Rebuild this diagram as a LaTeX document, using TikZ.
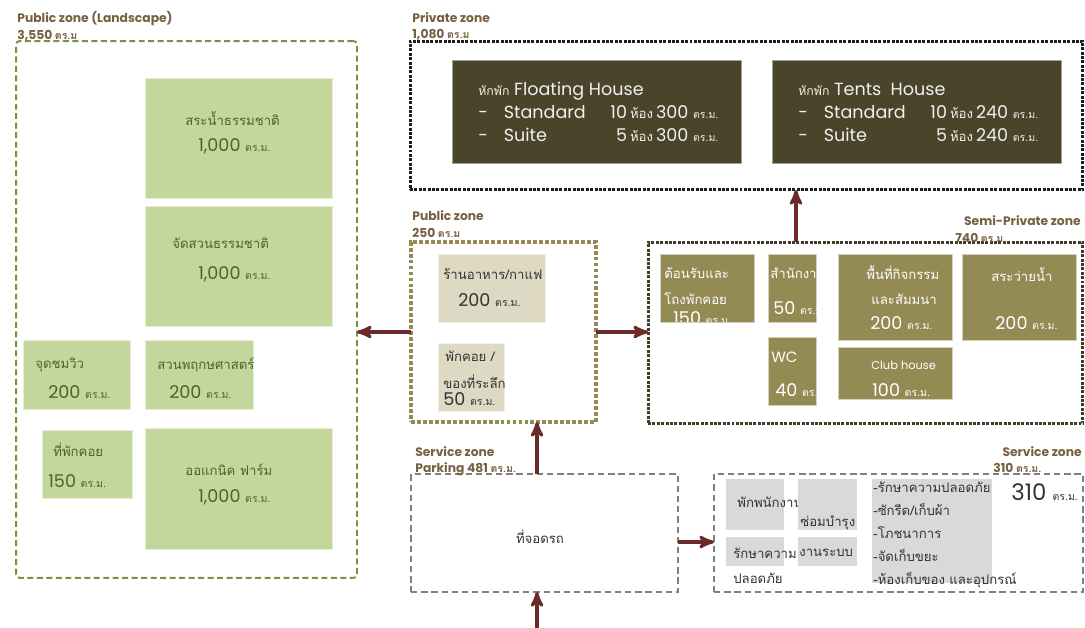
\documentclass[tikz,border=0pt]{standalone}
\usepackage{fontspec}
\setmainfont{Poppins}
\newfontfamily\thai[Script=Thai]{Loma}
\usepackage{tikz}
\usetikzlibrary{calc, shapes, arrows}
\usetikzlibrary{positioning}

\definecolor{zonebrown}{HTML}{76603F}
\definecolor{arrowred}{HTML}{6B2B2B}
\definecolor{landline}{HTML}{77933C}
\definecolor{landfill}{HTML}{C3D69B}
\definecolor{landtext}{HTML}{4F6228}
\definecolor{publine}{HTML}{948A54}
\definecolor{pubfill}{HTML}{DDD9C3}
\definecolor{semiline}{HTML}{403A26}
\definecolor{semifill}{HTML}{948A54}
\definecolor{privline}{HTML}{1E1E1E}
\definecolor{privfill}{HTML}{4A452A}
\definecolor{servline}{HTML}{7F7F7F}
\definecolor{servfill}{HTML}{D9D9D9}

\newcommand{\sqm}[1][6]{{\thai\fontsize{#1}{#1}\selectfont ตร.ม.}}
\newcommand{\sqmm}[1][6]{{\thai\fontsize{#1}{#1}\selectfont ตร.ม}}
\newcommand{\rooms}{{\thai\fontsize{7.5}{8}\selectfont ห้อง}}

\tikzstyle{area} = [rectangle, inner sep=0pt, outer sep=0pt]
\tikzstyle{zonetitle} = [anchor=west, inner sep=0pt, text=zonebrown, font=\bfseries\fontsize{7}{8}\selectfont]
\tikzstyle{landbox} = [area, fill=landfill, draw=landfill!40!white, line width=0.5pt]
\tikzstyle{pubbox} = [area, fill=pubfill, draw=pubfill!40!white, line width=0.5pt]
\tikzstyle{semibox} = [area, fill=semifill, draw=semifill!40!white, line width=0.5pt]
\tikzstyle{privbox} = [area, fill=privfill, draw=privfill!50!white, line width=0.5pt]
\tikzstyle{servbox} = [area, fill=servfill]
\tikzstyle{lbl} = [anchor=west, inner sep=0pt, font=\thai\fontsize{7.5}{9}\selectfont]
\tikzstyle{num} = [anchor=west, inner sep=0pt, font=\fontsize{10}{12}\selectfont]
\tikzstyle{link} = [->, >=stealth', line width=1.8pt, draw=arrowred]

\begin{document}
\begin{tikzpicture}[x=0.02cm, y=-0.02cm]
    \useasboundingbox (0,0) rectangle (1085,628);

    % public zone (landscape)
    \node[area, draw=landline, line width=1.1pt, dash pattern=on 3.4pt off 2pt, rounded corners=2pt, minimum width=6.82cm, minimum height=10.74cm] at (186.5,309.5) (landzone) {};
    \node[zonetitle] at (17,19) (landtitle) {Public zone (Landscape)};
    \node[zonetitle] at (17,36) (landsize) {3,550 \sqmm};

    \node[landbox, minimum width=3.74cm, minimum height=2.4cm] at (238.5,138) (pond) {};
    \node[lbl, text=landtext] at (185,119) (pondname) {สระน้ำธรรมชาติ};
    \node[num, text=landtext] at (198,146) (pondsize) {1,000 \sqm};
    \node[landbox, minimum width=3.74cm, minimum height=2.4cm] at (238.5,266) (garden) {};
    \node[lbl, text=landtext] at (172,243) (gardenname) {จัดสวนธรรมชาติ};
    \node[num, text=landtext] at (198,274) (gardensize) {1,000 \sqm};
    \node[landbox, minimum width=2.14cm, minimum height=1.38cm] at (76.5,374.5) (view) {};
    \node[lbl, text=landtext] at (35,365) (viewname) {จุดชมวิว};
    \node[num, text=landtext] at (48,392) (viewsize) {200 \sqm};
    \node[landbox, minimum width=2.16cm, minimum height=1.38cm] at (199,374.5) (botanic) {};
    \node[lbl, text=landtext] at (157,365) (botanicname) {สวนพฤกษศาสตร์};
    \node[num, text=landtext] at (169,392) (botanicsize) {200 \sqm};
    \node[landbox, minimum width=1.8cm, minimum height=1.36cm] at (87,464) (rest) {};
    \node[lbl, text=landtext] at (53,450) (restname) {ที่พักคอย};
    \node[num, text=landtext] at (48,481) (restsize) {150 \sqm};
    \node[landbox, minimum width=3.74cm, minimum height=2.42cm] at (238.5,488.5) (farm) {};
    \node[lbl, text=landtext] at (185,470) (farmname) {ออแกนิค ฟาร์ม};
    \node[num, text=landtext] at (198,497) (farmsize) {1,000 \sqm};

    % private zone
    \node[area, draw=privline, line width=1.7pt, dash pattern=on 1.7pt off 0.8pt, minimum width=13.46cm, minimum height=2.98cm] at (746.5,115.5) (privzone) {};
    \node[zonetitle] at (412,18) (privtitle) {Private zone};
    \node[zonetitle] at (412,35) (privsize) {1,080 \sqmm};

    \node[privbox, minimum width=5.78cm, minimum height=2.06cm] at (596.5,111.5) (floating) {};
    \node[anchor=north west, inner sep=0pt, text=white!92!privfill, font=\fontsize{10}{13}\selectfont] at (478,79) (floatingtext) {%
        \begin{tabular}{@{}l@{\hspace{9pt}}l@{\hspace{14pt}}r@{\,}l@{}}
            \multicolumn{4}{@{}l}{{\thai\fontsize{7}{8}\selectfont หักพัก} Floating House}\\
            - & Standard & 10 & \rooms\,300 \sqm\\
            - & Suite & 5 & \rooms\,300 \sqm
        \end{tabular}};
    \node[privbox, minimum width=5.78cm, minimum height=2.06cm] at (916.5,111.5) (tents) {};
    \node[anchor=north west, inner sep=0pt, text=white!92!privfill, font=\fontsize{10}{13}\selectfont] at (798,79) (tentstext) {%
        \begin{tabular}{@{}l@{\hspace{9pt}}l@{\hspace{14pt}}r@{\,}l@{}}
            \multicolumn{4}{@{}l}{{\thai\fontsize{7}{8}\selectfont หักพัก} Tents\ \ House}\\
            - & Standard & 10 & \rooms\,240 \sqm\\
            - & Suite & 5 & \rooms\,240 \sqm
        \end{tabular}};

    % public zone
    \node[area, draw=publine, line width=2.2pt, dash pattern=on 2.2pt off 1.2pt, minimum width=3.7cm, minimum height=3.6cm] at (503.5,332) (pubzone) {};
    \node[zonetitle] at (412,216) (pubtitle) {Public zone};
    \node[zonetitle] at (412,233) (pubsize) {250 \sqmm};

    \node[pubbox, minimum width=2.14cm, minimum height=1.36cm] at (491.5,288) (cafe) {};
    \node[lbl, text=black!80] at (443,274) (cafename) {ร้านอาหาร/กาแฟ};
    \node[num, text=black!80] at (458,300) (cafesize) {200 \sqm};
    \node[pubbox, minimum width=1.32cm, minimum height=1.36cm] at (471,377) (souvenir) {};
    \node[lbl, text=black!80] at (445,356) (souvenirname) {พักคอย /};
    \node[lbl, text=black!80] at (443,382) (souvenirname2) {ของที่ระลึก};
    \node[num, text=black!80] at (443,399) (souvenirsize) {50 \sqm};

    % semi-private zone
    \node[area, draw=semiline, line width=1.7pt, dash pattern=on 1.7pt off 0.8pt, minimum width=8.7cm, minimum height=3.64cm] at (865.5,333) (semizone) {};
    \node[zonetitle, anchor=east] at (1081,221) (semititle) {Semi-Private zone};
    \node[zonetitle] at (955,238) (semisize) {740 \sqm};

    \node[semibox, minimum width=1.88cm, minimum height=1.36cm] at (707,288) (lobby) {};
    \begin{scope}
        \clip (lobby.north west) rectangle (lobby.south east);
        \node[lbl, text=white] at (664,273) (lobbyname) {ต้อนรับและ};
        \node[lbl, text=white] at (664,299) (lobbyname2) {โถงพักคอย};
        \node[num, text=white] at (673,318) (lobbysize) {150 \sqmm};
    \end{scope}
    \node[semibox, minimum width=0.96cm, minimum height=1.36cm] at (792,288) (office) {};
    \begin{scope}
        \clip (office.north west) rectangle (office.south east);
        \node[lbl, text=white] at (770,273) (officename) {สำนักงาน};
        \node[num, text=white] at (773,308) (officesize) {50 \sqm};
    \end{scope}
    \node[semibox, minimum width=0.96cm, minimum height=1.36cm] at (792,371) (wc) {};
    \begin{scope}
        \clip (wc.north west) rectangle (wc.south east);
        \node[anchor=west, inner sep=0pt, text=white, font=\fontsize{8.5}{10}\selectfont] at (771,357) (wcname) {WC};
        \node[num, text=white] at (775,390) (wcsize) {40 \sqm};
    \end{scope}
    \node[semibox, minimum width=2.28cm, minimum height=1.72cm] at (895,297) (activity) {};
    \node[lbl, text=white] at (866,273) (activityname) {พื้นที่กิจกรรม};
    \node[lbl, text=white] at (871,299) (activityname2) {และสัมมนา};
    \node[num, text=white] at (870,323) (activitysize) {200 \sqm};
    \node[semibox, minimum width=2.28cm, minimum height=1.04cm] at (895,373) (club) {};
    \node[anchor=west, inner sep=0pt, text=white, font=\fontsize{6.5}{8}\selectfont] at (871,365) (clubname) {Club house};
    \node[num, text=white] at (872,390) (clubsize) {100 \sqm};
    \node[semibox, minimum width=2.28cm, minimum height=1.72cm] at (1019,297) (pool) {};
    \node[lbl, text=white] at (991,275) (poolname) {สระว่ายน้ำ};
    \node[num, text=white] at (995,323) (poolsize) {200 \sqm};

    % service zone (parking)
    \node[area, draw=servline, line width=0.9pt, dash pattern=on 3.6pt off 2.2pt, minimum width=5.34cm, minimum height=2.36cm] at (544.5,533) (parking) {};
    \node[zonetitle] at (415,452) (parktitle) {Service zone};
    \node[zonetitle] at (415,469) (parksize) {Parking 481 \sqm};
    \node[lbl, anchor=center, text=black!80] at (540,537) (parkname) {ที่จอดรถ};

    % service zone
    \node[area, draw=servline, line width=0.9pt, dash pattern=on 3.6pt off 2.2pt, minimum width=7.38cm, minimum height=2.36cm] at (898.5,533) (service) {};
    \node[zonetitle, anchor=east] at (1082,452) (servtitle) {Service zone};
    \node[zonetitle] at (993,468) (servsize) {310 \sqm};

    \node[servbox, minimum width=1.16cm, minimum height=1.02cm] at (755,504.5) (staff) {};
    \node[lbl, text=black!80] at (737,502) (staffname) {พักพนักงาน};
    \node[servbox, minimum width=1.18cm, minimum height=1.02cm] at (827.5,504.5) (repair) {};
    \node[lbl, text=black!80] at (800,523) (repairname) {ซ่อมบำรุง};
    \node[servbox, minimum width=1.16cm, minimum height=0.58cm] at (755,551.5) (security) {};
    \node[lbl, text=black!80] at (733,553) (securityname) {รักษาความ};
    \node[lbl, text=black!80] at (733,578) (securityname2) {ปลอดภัย};
    \node[servbox, minimum width=1.18cm, minimum height=0.58cm] at (827.5,551.5) (system) {};
    \node[lbl, text=black!80] at (799,553) (systemname) {งานระบบ};
    \node[servbox, minimum width=2.4cm, minimum height=2.08cm] at (932,531) (facility) {};
    \node[lbl, anchor=north west, align=left, text=black!80, font=\thai\fontsize{7.5}{13}\selectfont] at (873,482) (facilitylist) {-รักษาความปลอดภัย\\-ซักรีด/เก็บผ้า\\-โภชนาการ\\-จัดเก็บขยะ\\-ห้องเก็บของ และอุปกรณ์};
    \node[num, text=black!80, font=\fontsize{13}{14}\selectfont] at (1011,492) (servarea) {310 \sqm};

    % connectors
    \coordinate (entry) at (537,628);
    \draw[link] (pubzone.west) -- (pubzone.west -| landzone.east);
    \draw[link] (pubzone.east) -- (pubzone.east -| semizone.west);
    \draw[link] (796,0 |- semizone.north) -- (796,0 |- privzone.south);
    \draw[link] (537,0 |- parking.north) -- (537,0 |- pubzone.south);
    \draw[link] (entry) -- (entry |- parking.south);
    \draw[link] ([yshift=-0.18cm]parking.east) -- ([yshift=-0.18cm]parking.east -| service.west);
\end{tikzpicture}
\end{document}
